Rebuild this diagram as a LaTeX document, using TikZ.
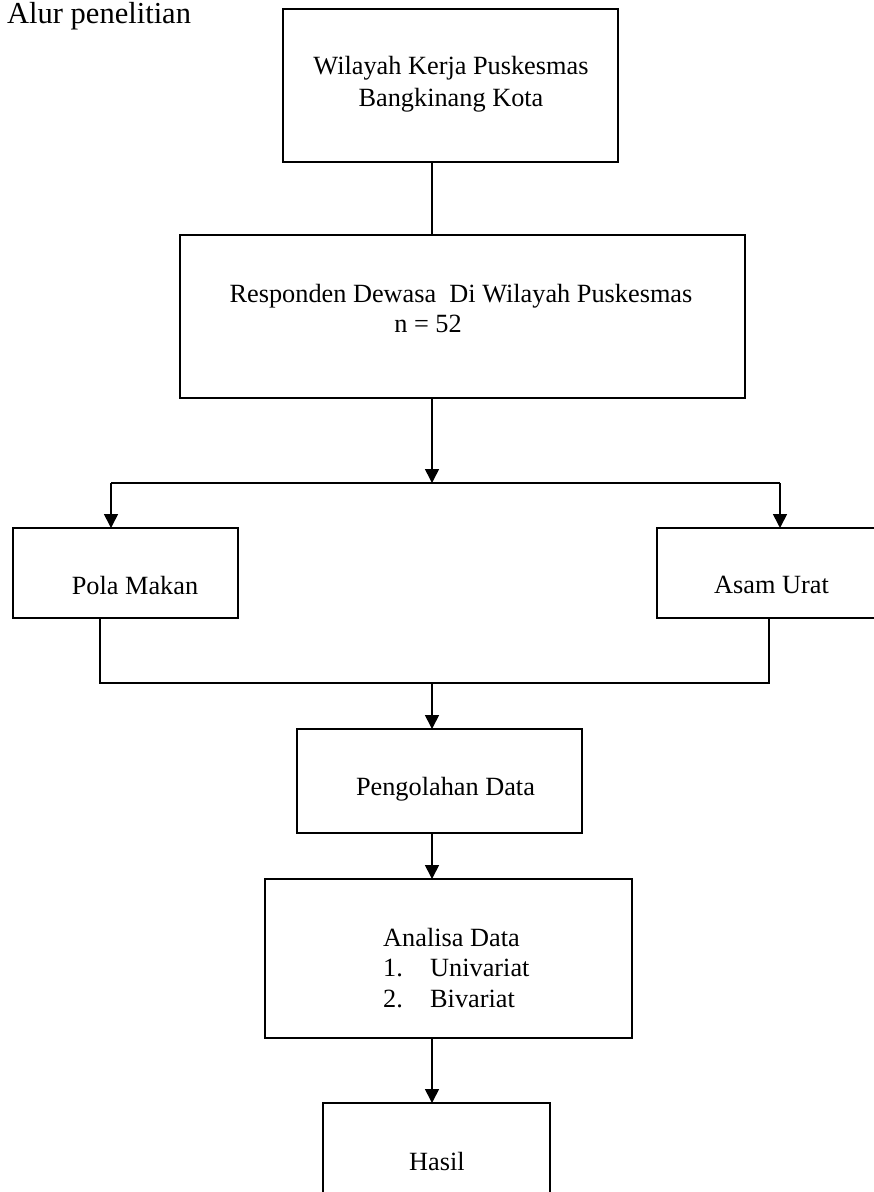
\documentclass[tikz,border=0pt]{standalone}
\usepackage{fontspec}
\setmainfont{Liberation Serif}
\usetikzlibrary{arrows.meta}
\begin{document}
\begin{tikzpicture}[x=1pt,y=-1pt,
  box/.style={draw=black,line width=1.6pt,rectangle,inner sep=0pt,outer sep=0pt},
  conn/.style={line width=1.6pt},
  arr/.style={line width=1.6pt,-{Triangle[length=14pt,width=14pt]}},
  lbl/.style={inner sep=0pt,anchor=base,font=\fontsize{26.3}{30}\selectfont},
  lblw/.style={inner sep=0pt,anchor=base west,font=\fontsize{26.3}{30}\selectfont}]
\useasboundingbox (0,0) rectangle (874,1192);
\clip (0,0) rectangle (874,1192);
% title
\node[inner sep=0pt,anchor=base west,font=\fontsize{30.5}{36}\selectfont] (title) at (7,23) {Alur penelitian};
% boxes
\node[box,minimum width=335pt,minimum height=153pt] (b1) at (450.5,85.5) {};
\node[box,minimum width=565pt,minimum height=163pt] (b2) at (462.5,316.5) {};
\node[box,minimum width=225pt,minimum height=90pt] (b3) at (125.5,573) {};
\node[box,minimum width=260pt,minimum height=90pt] (b4) at (787,573) {};
\node[box,minimum width=285pt,minimum height=104pt] (b5) at (439.5,781) {};
\node[box,minimum width=367pt,minimum height=159pt] (b6) at (448.5,958.5) {};
\node[box,minimum width=227pt,minimum height=130pt] (b7) at (436.5,1168) {};
% texts
\node[lbl] (t1a) at (451,74) {Wilayah Kerja Puskesmas};
\node[lbl] (t1b) at (451,106) {Bangkinang Kota};
\node[lbl] (t2a) at (461,302) {Responden Dewasa\ \ Di Wilayah Puskesmas};
\node[lbl] (t2b) at (428,332) {n = 52};
\node[lbl] (t3) at (135,594) {Pola Makan};
\node[lbl] (t4) at (771.5,593) {Asam Urat};
\node[lbl] (t5) at (445.5,795) {Pengolahan Data};
\node[lblw] (t6a) at (383,946) {Analisa Data};
\node[lblw] (t6b) at (383,976) {1.};
\node[lblw] (t6c) at (430,976) {Univariat};
\node[lblw] (t6d) at (383,1007) {2.};
\node[lblw] (t6e) at (430,1007) {Bivariat};
\node[lbl] (t7) at (437,1170) {Hasil};
% junction coordinates
\coordinate (sp) at (432,0);
\coordinate (j1) at (432,483);
\coordinate (jL) at (111,483);
\coordinate (jR) at (780,483);
\coordinate (kL) at (100,683);
\coordinate (kR) at (769,683);
\coordinate (k1) at (432,683);
% connectors
\draw[conn] (b1.south -| sp) -- (b2.north -| sp);
\draw[arr] (b2.south -| sp) -- (j1);
\draw[conn] (jL) -- (jR);
\draw[arr] (jL) -- (b3.north -| jL);
\draw[arr] (jR) -- (b4.north -| jR);
\draw[conn] (b3.south -| kL) -- (kL) -- (kR) -- (b4.south -| kR);
\draw[arr] (k1) -- (b5.north -| sp);
\draw[arr] (b5.south -| sp) -- (b6.north -| sp);
\draw[arr] (b6.south -| sp) -- (b7.north -| sp);
\end{tikzpicture}
\end{document}
